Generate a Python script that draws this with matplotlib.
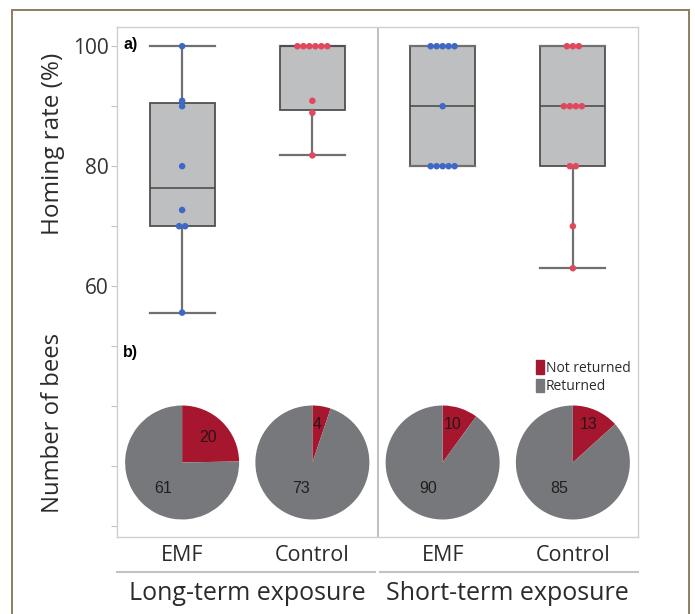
import numpy as np
import matplotlib
matplotlib.use("Agg")
from matplotlib import pyplot as plt
from matplotlib.patches import Patch, Rectangle

# ---- data ----
groups = ["EMF", "Control", "EMF", "Control"]
exposures = ["Long-term exposure", "Short-term exposure"]

emf_long = [100, 90.9, 90, 80, 72.7, 70, 70, 55.6]
ctrl_long = [100, 100, 100, 100, 100, 100, 90.9, 88.9, 81.8]
emf_short = [100, 100, 100, 100, 100, 90, 80, 80, 80, 80, 80]
ctrl_short = [100, 100, 100, 90, 90, 90, 90, 80, 80, 70, 63]
points = [emf_long, ctrl_long, emf_short, ctrl_short]

# box statistics (whisker low, q1, median, q3, whisker high)
whislo = [55.6, 81.8, 80, 63]
q1 = [70, 89.4, 80, 80]
med = [76.35, 100, 90, 90]
q3 = [90.6, 100, 100, 100]
whishi = [100, 100, 100, 100]

not_returned = [20, 4, 10, 13]
returned = [61, 73, 90, 85]
# label offsets inside each pie (radius units)
red_lab = [(0.45, 0.44), (0.08, 0.67), (0.18, 0.67), (0.27, 0.67)]
grey_lab = [(-0.33, -0.45), (-0.2, -0.45), (-0.25, -0.45), (-0.24, -0.45)]

BOXC = "#bebfc1"
BLUE = "#3f68c4"
RED = "#e0485e"
PIE_RED = "#a6172f"
PIE_GREY = "#77787c"
TXT = "#2b2b2b"

W, H = 695, 614
fig = plt.figure(figsize=(W / 100, H / 100), dpi=100)
font = ["Open Sans", "DejaVu Sans"]
arial = ["Liberation Sans", "DejaVu Sans"]

# outer brown frame
fig.patches.append(Rectangle((12 / W, -0.02), 677 / W, 1.02 - 10 / H,
                             transform=fig.transFigure, fill=False,
                             edgecolor="#8c7d62", lw=1.4))

left, right, top, bot = 117, 638, 27, 537
ax = fig.add_axes([left / W, 1 - bot / H, (right - left) / W, (bot - top) / H])
ax.set_xlim(-0.5, 3.5)
ax.set_ylim(18.2, 103.2)

stats = []
for i in range(4):
    stats.append(dict(whislo=whislo[i], q1=q1[i], med=med[i], q3=q3[i],
                      whishi=whishi[i], fliers=[]))
ax.bxp(stats, positions=range(4), widths=0.5, capwidths=0.5, patch_artist=True,
       showfliers=False,
       boxprops=dict(facecolor=BOXC, edgecolor="#505050", lw=1.3),
       medianprops=dict(color="#454545", lw=1.1),
       whiskerprops=dict(color="#707070", lw=1.6),
       capprops=dict(color="#707070", lw=1.6), zorder=2)

# beeswarm-ish points
dx = 0.046
for i, vals in enumerate(points):
    col = BLUE if i % 2 == 0 else RED
    vals = np.array(vals)
    for v in np.unique(vals):
        k = np.sum(vals == v)
        xs = i + (np.arange(k) - (k - 1) / 2) * dx
        ax.scatter(xs, [v] * k, s=22, color=col, edgecolor="none", zorder=4)

ax.axvline(1.5, color="#b4b4b4", lw=1.2, zorder=1)

for s in ax.spines.values():
    s.set_color("#cfcfcf")
    s.set_linewidth(1.0)

yt = np.arange(20, 101, 10)
ax.set_yticks(yt, [str(t) if t >= 60 and t % 20 == 0 else "" for t in yt])
ax.tick_params(axis="y", length=4, color="#c4c4c4", labelsize=15,
               labelcolor="#333333", pad=2)
for lab in ax.get_yticklabels():
    lab.set_family(font)
ax.set_xticks(range(4), groups)
ax.tick_params(axis="x", length=0, labelsize=15.5, labelcolor=TXT, pad=6)
for lab in ax.get_xticklabels():
    lab.set_family(font)

# separator lines under category labels + exposure labels
tr = ax.get_xaxis_transform()
yline = -(572 - bot) / (bot - top)
ax.plot([-0.5, 1.48], [yline, yline], color="#c2c2c2", lw=1.5, transform=tr, clip_on=False)
ax.plot([1.52, 3.5], [yline, yline], color="#c2c2c2", lw=1.5, transform=tr, clip_on=False)
ylab = -(593 - bot) / (bot - top)
for j, name in enumerate(exposures):
    ax.text(0.5 + 2 * j, ylab, name, transform=tr, ha="center", va="center",
            fontsize=18, color=TXT, family=font)

fig.text(53 / W, 1 - 144 / H, "Homing rate (%)", rotation=90, ha="center",
         va="center", fontsize=17.5, color=TXT, family=font)
fig.text(53 / W, 1 - 423 / H, "Number of bees", rotation=90, ha="center",
         va="center", fontsize=17.2, color=TXT, family=font)
fig.text(123 / W, 1 - 45 / H, "a)", fontsize=11.5, fontweight="bold",
         ha="left", va="center", family=arial)
fig.text(123 / W, 1 - 353 / H, "b)", fontsize=11.5, fontweight="bold",
         ha="left", va="center", family=arial)

# pies
pie_cy = 462.5
pie_d = 114
fig.canvas.draw()
for i in range(4):
    px, _ = ax.transData.transform((i, 50))
    pa = fig.add_axes([(px - pie_d / 2) / W, 1 - (pie_cy + pie_d / 2) / H,
                       pie_d / W, pie_d / H])
    pa.pie([not_returned[i], returned[i]], colors=[PIE_RED, PIE_GREY],
           startangle=90, counterclock=False, radius=1,
           wedgeprops=dict(edgecolor="none"))
    pa.set_aspect("auto")
    pa.set_xlim(-1, 1)
    pa.set_ylim(-1, 1)
    pa.axis("off")
    pa.text(*red_lab[i], str(not_returned[i]), ha="center", va="center",
            fontsize=11.5, color="#2a1515", family=arial)
    pa.text(*grey_lab[i], str(returned[i]), ha="center", va="center",
            fontsize=11.5, color="#1f1f1f", family=arial)

handles = [Patch(color=PIE_RED, label="Not returned"),
           Patch(color=PIE_GREY, label="Returned")]
fig.legend(handles=handles, loc="upper left", bbox_to_anchor=(536 / W, 1 - 360 / H),
           frameon=False, borderpad=0, borderaxespad=0, handlelength=0.6,
           handleheight=1.15, handletextpad=0.12, labelspacing=0.22,
           prop=dict(family=font, size=10), labelcolor=TXT)

fig.savefig("out.png", dpi=100, facecolor="white")
